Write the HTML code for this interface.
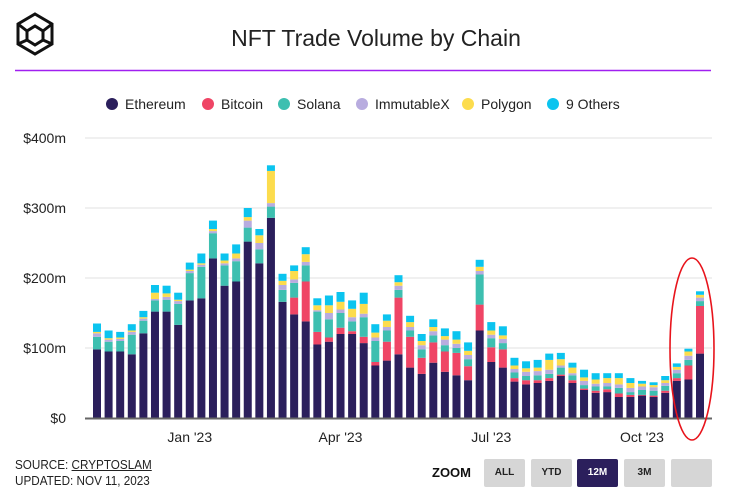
<!DOCTYPE html>
<html><head><meta charset="utf-8"><style>
body{margin:0;background:#fff;font-family:"Liberation Sans",sans-serif;}
#wrap{position:relative;width:740px;height:503px;overflow:hidden;}
.btn{position:absolute;top:459px;width:41px;height:28px;background:#d6d6d6;border-radius:2px;font-size:10px;font-weight:bold;color:#222;text-align:center;line-height:28px;}
</style></head><body>
<div id="wrap">
<svg width="740" height="503" style="position:absolute;left:0;top:0">
 <g fill="none" stroke="#111" stroke-width="3">
  <polygon points="35,14 52,24 52,44 35,54 18,44 18,24"/>
  <polygon points="35,26 43,31 43,40 35,45 27,40 27,31"/>
  <line x1="18" y1="24" x2="27" y2="31"/><line x1="52" y1="24" x2="43" y2="31"/>
  <line x1="18" y1="44" x2="27" y2="40"/><line x1="52" y1="44" x2="43" y2="40"/>
 </g>
 <text x="376" y="46" text-anchor="middle" font-size="23" fill="#222">NFT Trade Volume by Chain</text>
 <line x1="15" y1="70.5" x2="711" y2="70.5" stroke="#a020f0" stroke-width="1.5"/>
 <g id="legend"></g>
 <g id="grid"></g>
 <g id="bars"></g>
 <g id="xaxis"></g>
 <ellipse cx="692" cy="349" rx="22" ry="91" fill="none" stroke="#e8141c" stroke-width="1.6"/>
</svg>
<div style="position:absolute;left:15px;top:457px;font-size:13px;color:#222;line-height:16px;transform:scaleX(0.9);transform-origin:left">SOURCE: <span style="text-decoration:underline">CRYPTOSLAM</span><br>UPDATED: NOV 11, 2023</div>
<div style="position:absolute;left:432px;top:465px;font-size:13px;font-weight:bold;color:#111">ZOOM</div>
<div class="btn" style="left:484px">ALL</div>
<div class="btn" style="left:531px">YTD</div>
<div class="btn" style="left:577px;background:#2b1f5c;color:#fff">12M</div>
<div class="btn" style="left:624px">3M</div>
<div class="btn" style="left:671px"></div>
</div>
<script>
const seriesNames=["Ethereum","Bitcoin","Solana","ImmutableX","Polygon","9 Others"];
const seriesColors=["#2b1f5c","#ef4565","#3dbfb0","#b8acdf","#fcdc4d","#0bc4ef"];
const ethereum=[98,95,95,91,121,152,152,133,168,171,228,189,195,252,221,286,166,148,138,105,109,120,120,107,75,82,91,72,63,79,66,61,54,125,80,72,52,48,50,53,60,50,40,36,37,30,30,32,30,36,53,55,92];
const bitcoin=[0,0,0,0,0,0,0,0,0,0,0,0,0,0,0,0,0,24,57,18,6,9,4,9,5,27,81,44,23,29,29,32,20,37,21,26,5,6,4,4,2,4,2,3,4,5,3,1,2,3,4,20,68];
const solana=[18,14,15,28,18,16,17,30,39,45,36,29,29,20,20,16,17,21,23,29,26,21,14,28,30,16,11,9,12,10,9,7,10,43,13,9,8,6,7,6,10,7,5,6,4,8,4,7,7,7,7,8,7];
const immutablex=[5,3,3,4,3,2,4,4,3,3,3,3,4,10,9,5,7,5,5,2,9,5,6,5,5,5,6,5,6,6,8,6,6,5,5,6,5,6,6,6,3,3,6,4,5,5,6,5,5,4,5,6,5];
const polygon=[2,2,2,2,2,9,5,2,2,2,3,4,7,5,11,46,6,12,11,7,11,11,12,14,7,9,5,7,6,6,5,6,6,6,6,5,5,5,5,14,9,8,5,6,7,9,7,4,3,4,4,6,4];
const others=[12,11,8,9,9,11,11,10,10,14,12,10,13,13,9,8,10,8,10,10,14,14,12,16,12,9,10,9,10,11,11,12,12,10,12,13,11,10,11,9,9,7,11,9,7,7,7,4,4,6,5,4,5];
const yTicks=[0,100,200,300,400];
const yTickLabels=["$0","$100m","$200m","$300m","$400m"];
const xTickIndex=[8,21,34,47];
const xTickLabels=["Jan '23","Apr '23","Jul '23","Oct '23"];

const NS="http://www.w3.org/2000/svg";
const y=v=>418-v*0.7;
const x=i=>97+i*(603/(ethereum.length-1));
function mk(tag,attrs,parent){const e=document.createElementNS(NS,tag);for(const k in attrs)e.setAttribute(k,attrs[k]);parent.appendChild(e);return e;}
const grid=document.getElementById('grid');
yTicks.forEach((t,i)=>{
 if(t>0){const l=mk('line',{x1:85,x2:712,y1:y(t),y2:y(t),stroke:'#ececec','stroke-width':1.5},grid);
 
 }
 const tx=mk('text',{x:66,y:y(t)+5,'text-anchor':'end','font-size':14,fill:'#222'},grid);
 tx.textContent=yTickLabels[i];
 
 
});
const bars=document.getElementById('bars');
const all=[ethereum,bitcoin,solana,immutablex,polygon,others];
ethereum.forEach((_,i)=>{
 let base=0;
 all.forEach((s,k)=>{
  const v=s[i]; if(v<=0)return;
  const r=mk('rect',{x:x(i)-4,y:y(base+v),width:8,height:v*0.7,fill:seriesColors[k]},bars);
  
  
  base+=v;
 });
});
const xa=document.getElementById('xaxis');
const base=mk('line',{x1:85,x2:712,y1:418.5,y2:418.5,stroke:'#666','stroke-width':2},xa);


xTickIndex.forEach((ix,i)=>{
 const t=mk('text',{x:x(ix),y:442,'text-anchor':'middle','font-size':14,fill:'#222'},xa);
 t.textContent=xTickLabels[i];
 
 
});
const lg=document.getElementById('legend');
const lx=[112,208,284,362,468,553];
seriesNames.forEach((n,k)=>{
 const g=mk('g',{},lg);
 
 
 mk('circle',{cx:lx[k],cy:104,r:6,fill:seriesColors[k]},g);
 const t=mk('text',{x:lx[k]+13,y:109,'font-size':14,fill:'#222'},g);
 t.textContent=n;
});
</script>
</body></html>
